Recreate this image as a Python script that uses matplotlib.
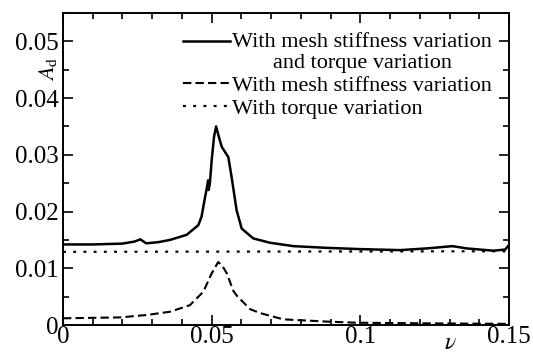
import matplotlib
matplotlib.use("Agg")
import numpy as np
import matplotlib.pyplot as plt
from matplotlib.ticker import MultipleLocator, FixedLocator, FixedFormatter
from matplotlib.legend_handler import HandlerLine2D

plt.rcParams['font.family'] = ['Liberation Serif', 'DejaVu Serif']
plt.rcParams['mathtext.fontset'] = 'stix'

# Data: both (mesh stiffness + torque variation)
x_both = [0.000, 0.010, 0.020, 0.024, 0.026, 0.028, 0.032, 0.036, 0.0416, 0.0455,
          0.0466, 0.0478, 0.0485, 0.0488, 0.0490, 0.0494, 0.0500, 0.0508, 0.0515,
          0.0525, 0.0534, 0.0556, 0.0567, 0.0584, 0.0601, 0.0640, 0.0696, 0.0775,
          0.0887, 0.0999, 0.1133, 0.1223, 0.1310, 0.1358, 0.1447, 0.1487, 0.1500]
y_both = [0.0142, 0.0142, 0.01435, 0.0147, 0.0151, 0.0144, 0.0146, 0.0150, 0.0159, 0.0176,
          0.0191, 0.0226, 0.0245, 0.0255, 0.0238, 0.0250, 0.0290, 0.0332, 0.0350,
          0.0330, 0.0314, 0.0296, 0.0261, 0.0202, 0.0170, 0.01526, 0.0145, 0.0139,
          0.0136, 0.01338, 0.0132, 0.0135, 0.0139, 0.0135, 0.0131, 0.0133, 0.0141]

# Mesh stiffness variation only
x_mesh = [0.000, 0.0192, 0.0281, 0.036, 0.0427, 0.0472, 0.050, 0.0522, 0.0535, 0.0551,
          0.0573, 0.0584, 0.0629, 0.0663, 0.0741, 0.0887, 0.0988, 0.120, 0.150]
y_mesh = [0.00118, 0.00134, 0.00176, 0.00234, 0.0035, 0.00587, 0.0091, 0.0111, 0.0105, 0.0091,
          0.0060, 0.0052, 0.0028, 0.0021, 0.0010, 0.0006, 0.0004, 0.0003, 0.0002]

# Torque variation only
x_torque = [0.000, 0.150]
y_torque = [0.0129, 0.0130]

labels = ["With mesh stiffness variation\nand torque variation",
          "With mesh stiffness variation",
          "With torque variation"]
xticks = [0, 0.05, 0.1, 0.15]
xticklabels = ["0", "0.05", "0.1", "0.15"]
yticks = [0, 0.01, 0.02, 0.03, 0.04, 0.05]
yticklabels = ["0", "0.01", "0.02", "0.03", "0.04", "0.05"]


class UpHandler(HandlerLine2D):
    def __init__(self, dy, **kw):
        super().__init__(**kw)
        self.dy = dy

    def create_artists(self, legend, orig_handle, xdescent, ydescent, width,
                       height, fontsize, trans):
        arts = super().create_artists(legend, orig_handle, xdescent, ydescent,
                                      width, height, fontsize, trans)
        for a in arts:
            a.set_ydata(np.asarray(a.get_ydata()) + self.dy)
        return arts


fig = plt.figure(figsize=(5.33, 3.54), dpi=100)
ax = fig.add_axes([63/533, 1-325/354, 446/533, 312/354])

l1, = ax.plot(x_both, y_both, color='black', lw=1.8, solid_joinstyle='round')
l2, = ax.plot(x_mesh, y_mesh, color='black', lw=1.5, linestyle=(0, (4, 2)))
l3, = ax.plot(x_torque, y_torque, color='black', lw=1.6, linestyle=(0, (1.3, 3.3)))

ax.set_xlim(0, 0.15)
ax.set_ylim(0, 0.055)
ax.xaxis.set_major_locator(FixedLocator(xticks))
ax.xaxis.set_major_formatter(FixedFormatter(xticklabels))
ax.xaxis.set_minor_locator(MultipleLocator(0.01))
ax.yaxis.set_major_locator(FixedLocator(yticks))
ax.yaxis.set_major_formatter(FixedFormatter(yticklabels))
ax.yaxis.set_minor_locator(MultipleLocator(0.005))
ax.tick_params(which='both', direction='in', top=True, right=True, width=1.2, labelsize=18)
ax.tick_params(which='major', length=7)
ax.tick_params(which='minor', length=4)
ax.tick_params(axis='x', pad=1)
ax.tick_params(axis='y', pad=3)
for s in ax.spines.values():
    s.set_linewidth(1.4)

ax.text(-0.034, 0.82, r"$A_{\rm d}$", transform=ax.transAxes, rotation=90,
        fontsize=16, ha='center', va='center')
ax.text(0.868, -0.058, r"$\nu$", transform=ax.transAxes, fontsize=17,
        ha='center', va='center')

leg = ax.legend([l1, l2, l3], labels, loc='upper right', bbox_to_anchor=(0.962, 0.937),
                frameon=False, fontsize=16, handlelength=2.1, handletextpad=0.1,
                borderpad=0, borderaxespad=0, labelspacing=0.1,
                handler_map={l1: UpHandler(7.8)})
for t in leg.get_texts():
    t.set_multialignment('center')
    t.set_linespacing(1.2)

fig.savefig("out.png", dpi=100)
